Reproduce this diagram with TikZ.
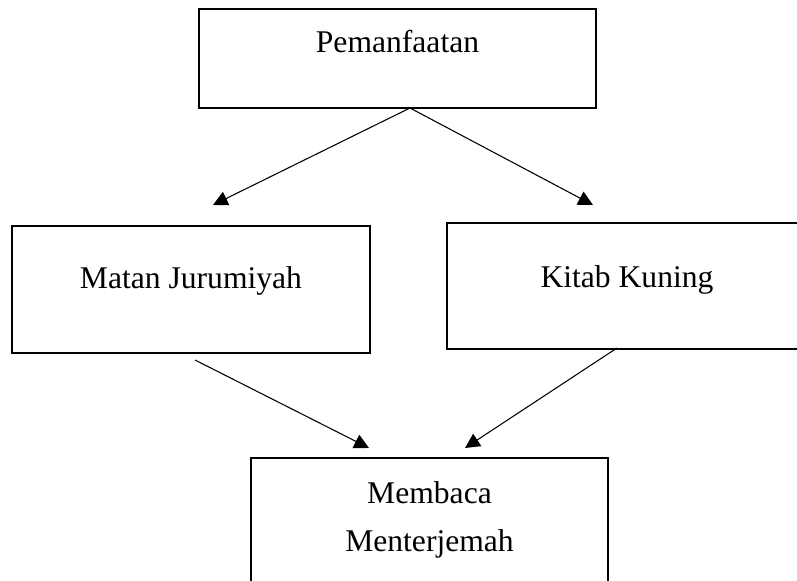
\documentclass[tikz,border=0pt]{standalone}
\usepackage{fontspec}
\setmainfont{Liberation Serif}
\usetikzlibrary{arrows.meta}
\tikzset{
  kotak/.style={draw, line width=1.5pt, inner sep=0pt, font=\fontsize{23.7}{36}\selectfont},
  panah/.style={-{Triangle[length=11pt,width=11pt]}, line width=0.8pt},
}
\begin{document}
\begin{tikzpicture}[x=0.75pt, y=-0.75pt]
    \useasboundingbox (0,0) rectangle (797,581);
    \node[kotak, anchor=base, minimum width=297.75pt, text height=33pt, text depth=41pt] (pemanfaatan) at (397.5,53) {Pemanfaatan};
    \node[kotak, anchor=base, minimum width=268.5pt, text height=47.25pt, text depth=48pt] (matan) at (191,289) {Matan Jurumiyah};
    \node[kotak, anchor=base, minimum width=270pt, text height=48pt, text depth=46.5pt] (kitab) at (627,287) {Kitab Kuning};
    \node[kotak, anchor=north, align=center, minimum width=267.75pt, inner ysep=17.5pt] (membaca) at (429.5,457)
        {Membaca\\Menterjemah\rule[-30pt]{0pt}{30pt}};
    % titik ujung panah
    \coordinate (asal) at (410,108);
    \coordinate (kematan) at (213,205);
    \coordinate (kekitab) at (593,205);
    \coordinate (darimatan) at (195,360);
    \coordinate (darikitab) at (617,348);
    \coordinate (kiri) at (369,448);
    \coordinate (kanan) at (465,448);
    \draw[panah] (asal) -- (kematan);
    \draw[panah] (asal) -- (kekitab);
    \draw[panah] (darimatan) -- (kiri);
    \draw[panah] (darikitab) -- (kanan);
\end{tikzpicture}
\end{document}
